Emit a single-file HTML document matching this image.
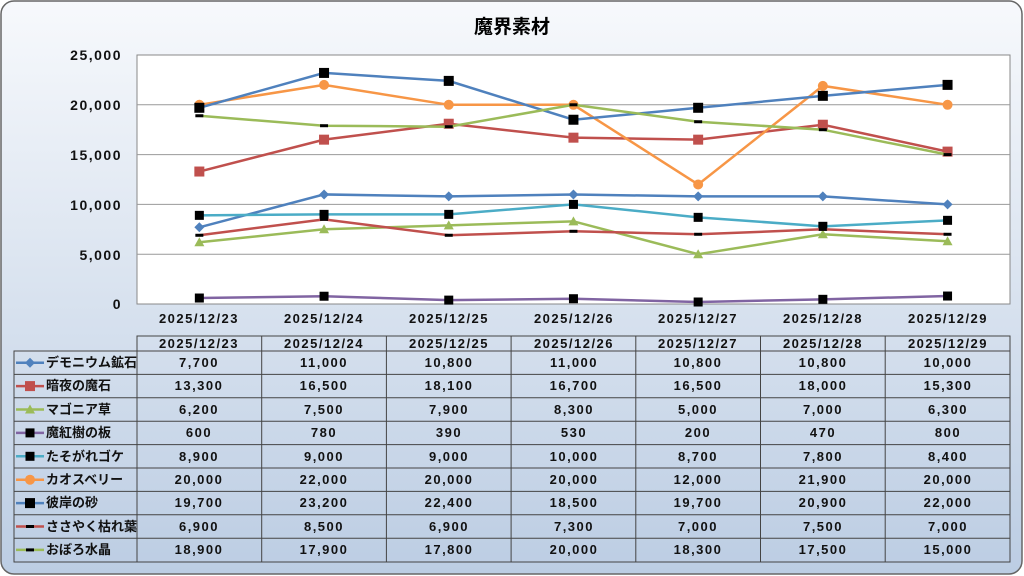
<!DOCTYPE html>
<html><head><meta charset="utf-8"><style>
body{margin:0;width:1024px;height:576px;overflow:hidden;background:#fff;font-family:"Liberation Sans","Noto Sans CJK JP",sans-serif;}
.n{letter-spacing:1.5px}
</style></head><body>
<svg id="s" width="1024" height="576" xmlns="http://www.w3.org/2000/svg" style="position:absolute;left:0;top:0">
<defs><linearGradient id="g" x1="0" y1="0" x2="0" y2="1"><stop offset="0" stop-color="#f7f9fc"/><stop offset="1" stop-color="#bccde3"/></linearGradient></defs>
<rect x="1" y="1" width="1021" height="573" rx="13" fill="url(#g)" stroke="#666" stroke-width="1.5"/>
<text x="512" y="33" text-anchor="middle" font-size="19" font-weight="bold" fill="#000">魔界素材</text>
<rect x="137" y="55" width="873" height="249" fill="#fff" stroke="#888"/>
<g stroke="#999" stroke-width="1">
<line x1="137" x2="1010" y1="104.8" y2="104.8"/><line x1="137" x2="1010" y1="154.6" y2="154.6"/><line x1="137" x2="1010" y1="204.4" y2="204.4"/><line x1="137" x2="1010" y1="254.2" y2="254.2"/>
</g>
<g class="n" font-size="14" font-weight="bold" text-anchor="end" fill="#111">
<text x="122" y="60">25,000</text><text x="122" y="110">20,000</text><text x="122" y="160">15,000</text><text x="122" y="210">10,000</text><text x="122" y="260">5,000</text><text x="122" y="309">0</text>
</g>
<g class="n" font-size="13" font-weight="bold" text-anchor="middle" fill="#111">
<text x="199" y="323">2025/12/23</text><text x="324" y="323">2025/12/24</text><text x="449" y="323">2025/12/25</text><text x="574" y="323">2025/12/26</text><text x="698" y="323">2025/12/27</text><text x="823" y="323">2025/12/28</text><text x="948" y="323">2025/12/29</text>
</g>
<g id="lines"></g>
<g id="tbl" stroke="#444" stroke-width="1" fill="none"></g>
<g class="n" font-size="13" font-weight="bold" text-anchor="middle" fill="#111">
<text x="199" y="348">2025/12/23</text><text x="324" y="348">2025/12/24</text><text x="449" y="348">2025/12/25</text><text x="574" y="348">2025/12/26</text><text x="698" y="348">2025/12/27</text><text x="823" y="348">2025/12/28</text><text x="948" y="348">2025/12/29</text>
</g>
<g font-size="13" font-weight="bold" fill="#111">
<text x="46" y="367">デモニウム鉱石</text><text x="46" y="390">暗夜の魔石</text><text x="46" y="414">マゴニア草</text><text x="46" y="437">魔紅樹の板</text><text x="46" y="461">たそがれゴケ</text><text x="46" y="484">カオスベリー</text><text x="46" y="507">彼岸の砂</text><text x="46" y="531">ささやく枯れ葉</text><text x="46" y="554">おぼろ水晶</text>
</g>
<g class="n" font-size="13" font-weight="bold" text-anchor="middle" fill="#111">
<text y="367"><tspan x="199">7,700</tspan><tspan x="324">11,000</tspan><tspan x="449">10,800</tspan><tspan x="574">11,000</tspan><tspan x="698">10,800</tspan><tspan x="823">10,800</tspan><tspan x="948">10,000</tspan></text>
<text y="390"><tspan x="199">13,300</tspan><tspan x="324">16,500</tspan><tspan x="449">18,100</tspan><tspan x="574">16,700</tspan><tspan x="698">16,500</tspan><tspan x="823">18,000</tspan><tspan x="948">15,300</tspan></text>
<text y="414"><tspan x="199">6,200</tspan><tspan x="324">7,500</tspan><tspan x="449">7,900</tspan><tspan x="574">8,300</tspan><tspan x="698">5,000</tspan><tspan x="823">7,000</tspan><tspan x="948">6,300</tspan></text>
<text y="437"><tspan x="199">600</tspan><tspan x="324">780</tspan><tspan x="449">390</tspan><tspan x="574">530</tspan><tspan x="698">200</tspan><tspan x="823">470</tspan><tspan x="948">800</tspan></text>
<text y="461"><tspan x="199">8,900</tspan><tspan x="324">9,000</tspan><tspan x="449">9,000</tspan><tspan x="574">10,000</tspan><tspan x="698">8,700</tspan><tspan x="823">7,800</tspan><tspan x="948">8,400</tspan></text>
<text y="484"><tspan x="199">20,000</tspan><tspan x="324">22,000</tspan><tspan x="449">20,000</tspan><tspan x="574">20,000</tspan><tspan x="698">12,000</tspan><tspan x="823">21,900</tspan><tspan x="948">20,000</tspan></text>
<text y="507"><tspan x="199">19,700</tspan><tspan x="324">23,200</tspan><tspan x="449">22,400</tspan><tspan x="574">18,500</tspan><tspan x="698">19,700</tspan><tspan x="823">20,900</tspan><tspan x="948">22,000</tspan></text>
<text y="531"><tspan x="199">6,900</tspan><tspan x="324">8,500</tspan><tspan x="449">6,900</tspan><tspan x="574">7,300</tspan><tspan x="698">7,000</tspan><tspan x="823">7,500</tspan><tspan x="948">7,000</tspan></text>
<text y="554"><tspan x="199">18,900</tspan><tspan x="324">17,900</tspan><tspan x="449">17,800</tspan><tspan x="574">20,000</tspan><tspan x="698">18,300</tspan><tspan x="823">17,500</tspan><tspan x="948">15,000</tspan></text>
</g>
</svg>
<script>
var NS="http://www.w3.org/2000/svg";
var data=[
[[7700,11000,10800,11000,10800,10800,10000],"#4f81bd","d"],
[[13300,16500,18100,16700,16500,18000,15300],"#c0504d","s"],
[[6200,7500,7900,8300,5000,7000,6300],"#9bbb59","t"],
[[600,780,390,530,200,470,800],"#8064a2","b"],
[[8900,9000,9000,10000,8700,7800,8400],"#4bacc6","b"],
[[20000,22000,20000,20000,12000,21900,20000],"#f79646","c"],
[[19700,23200,22400,18500,19700,20900,22000],"#4f81bd","B"],
[[6900,8500,6900,7300,7000,7500,7000],"#c0504d","-"],
[[18900,17900,17800,20000,18300,17500,15000],"#9bbb59","-"]];
var L=document.getElementById("lines"),T=document.getElementById("tbl");
function el(n,a,p){var e=document.createElementNS(NS,n);for(var k in a)e.setAttribute(k,a[k]);p.appendChild(e);return e;}
function mk(t,x,y,c,p){
 if(t=="d")el("polygon",{points:(x)+","+(y-5)+" "+(x+5)+","+y+" "+x+","+(y+5)+" "+(x-5)+","+y,fill:c},p);
 else if(t=="s")el("rect",{x:x-5,y:y-5,width:10,height:10,fill:c},p);
 else if(t=="t")el("polygon",{points:x+","+(y-5)+" "+(x+5)+","+(y+4)+" "+(x-5)+","+(y+4),fill:c},p);
 else if(t=="b")el("rect",{x:x-4.5,y:y-4.5,width:9,height:9,fill:"#000"},p);
 else if(t=="B")el("rect",{x:x-5,y:y-5,width:10,height:10,fill:"#000"},p);
 else if(t=="c")el("circle",{cx:x,cy:y,r:5,fill:c},p);
 else if(t=="-")el("rect",{x:x-4,y:y-1.5,width:8,height:3,fill:"#000"},p);
}
data.forEach(function(d,i){
 var pts=d[0].map(function(v,j){return [137+124.7*(j+0.5),304-v*249/25000];});
 el("polyline",{points:pts.map(function(p){return p.join(",")}).join(" "),fill:"none",stroke:d[1],"stroke-width":2.5},L);
 pts.forEach(function(p){mk(d[2],p[0],p[1],d[1],L);});
 var y=351+23.4*i+11.7;
 el("line",{x1:16,x2:44,y1:y,y2:y,stroke:d[1],"stroke-width":2.5},L);
 mk(d[2],30,y,d[1],L);
});
el("rect",{x:137,y:336,width:873,height:15},T);
el("rect",{x:14,y:351,width:996,height:211},T);
for(var i=1;i<9;i++)el("line",{x1:14,x2:1010,y1:351+23.4*i,y2:351+23.4*i},T);
for(var j=0;j<7;j++){var x=137+124.7*j;el("line",{x1:x,x2:x,y1:336,y2:562},T);}
</script>
</body></html>
